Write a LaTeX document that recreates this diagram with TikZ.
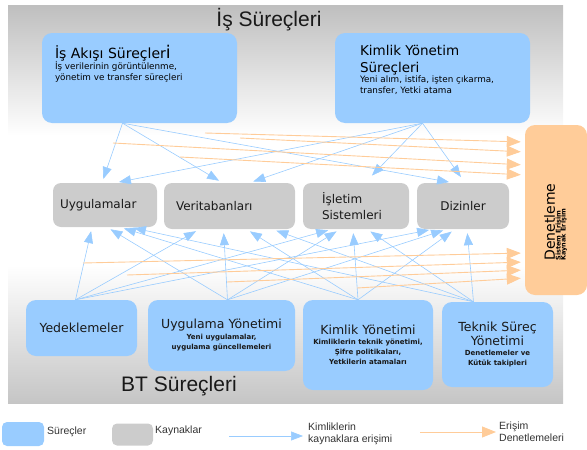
\documentclass[tikz,border=0pt]{standalone}
\usepackage{fontspec}
\setmainfont{DejaVu Sans}
\newfontfamily\arialfont{Liberation Sans}
\usepackage{graphicx}
\usetikzlibrary{arrows.meta}
\definecolor{surec}{HTML}{99CCFF}
\definecolor{kaynak}{HTML}{CCCCCC}
\definecolor{denet}{HTML}{FFCC99}
\definecolor{zemin}{HTML}{BFBFBF}
\lineskiplimit=-50pt
\tikzset{
  proc/.style={fill=surec, rounded corners=10pt, inner sep=0pt, text=black!90},
  res/.style={fill=kaynak, rounded corners=8pt, inner sep=0pt, text=black!90, font=\fontsize{12}{16}\selectfont},
  audit/.style={fill=denet, rounded corners=10pt, inner sep=0pt, text=black},
  acc/.style={draw=surec, line width=0.6pt, shorten >=4pt, -{Triangle[length=12pt,width=9pt]}},
  aud/.style={draw=denet, line width=0.9pt, shorten >=4pt, -{Triangle[length=14pt,width=11pt]}},
  ttl/.style={font=\arialfont\fontsize{21}{24}\selectfont, text=black!90},
  lgd/.style={font=\arialfont\fontsize{10.5}{12}\selectfont, text=black!80, align=left, inner sep=0pt},
}
\newcommand{\baslik}{\fontsize{12.5}{14}\selectfont}
\newcommand{\smtxt}{\fontsize{7}{10}\selectfont\bfseries}

\begin{document}
\begin{tikzpicture}[x=1pt, y=-1pt]
\useasboundingbox (0,0) rectangle (587,450);
\shade[top color=zemin, bottom color=white] (8,5) rectangle (563,136);
\shade[top color=white, bottom color=zemin!90] (8,265) rectangle (563,403);

\node[ttl, anchor=base] (is) at (269,26) {İş Süreçleri};
\node[ttl, anchor=base] (bt) at (179,391) {BT Süreçleri};

\node[proc, minimum width=195pt, minimum height=90pt,
  label={[anchor=north west, xshift=13pt, yshift=-12pt, align=left, inner sep=0pt, font=\fontsize{8.8}{11}\selectfont]north west:{%
    {\fontsize{14}{16}\selectfont İş Akışı Süreçler{\fontsize{17.5}{16}\selectfont i}}\\
    İş verilerinin görüntülenme,\\
    yönetim ve transfer süreçleri}}] (ias) at (139.5,78) {};
\node[proc, minimum width=195pt, minimum height=90pt,
  label={[anchor=north west, xshift=25pt, yshift=-12pt, align=left, inner sep=0pt, font=\fontsize{8.8}{10.5}\selectfont]north west:{%
    {\fontsize{13.5}{16}\selectfont Kimlik Yönetim}\\[6.5pt]
    {\fontsize{13.5}{16}\selectfont Süreçleri}\\
    Yeni alım, istifa, işten çıkarma,\\
    transfer, Yetki atama}}] (kys) at (432.5,78) {};

\node[res, minimum width=104pt, minimum height=44pt, text width=90pt, align=left] (uyg) at (105,205) {Uygulamalar};
\node[res, minimum width=131pt, minimum height=46pt, text width=107pt, align=left] (ver) at (229.5,206) {Veritabanları\\[-6pt]};
\node[res, minimum width=106pt, minimum height=46pt, text width=68pt, align=left] (isl) at (356,206) {İşletim\\Sistemleri};
\node[res, minimum width=92pt, minimum height=46pt, align=center] (diz) at (463,206) {Dizinler};

\node[audit, minimum width=62pt, minimum height=170pt] (den) at (556,210) {\rotatebox{90}{\lineskiplimit=0pt\fontsize{6.5}{7}\selectfont\begin{tabular}{@{}l@{\hspace{24pt}}}{\fontsize{14}{15}\selectfont Denetleme}\\[-1.5pt] \bfseries Sistem Erişim\\[-2pt] \bfseries Kaynak Erişim\end{tabular}}};

\node[proc, minimum width=111pt, minimum height=56pt, font=\baslik] (yed) at (81.5,328) {Yedeklemeler};
\node[proc, minimum width=147pt, minimum height=71pt, align=center, font=\fontsize{7}{10.5}\selectfont] (uyy) at (221.5,335.5) {{\baslik Uygulama Yönetimi}\\{\smtxt Yeni uygulamalar,}\\{\smtxt uygulama güncellemeleri}};
\node[proc, minimum width=130pt, minimum height=90pt, align=center, font=\fontsize{7}{10}\selectfont] (kyn) at (368,345) {{\baslik Kimlik Yönetimi}\\{\smtxt Kimliklerin teknik yönetimi,}\\{\smtxt Şifre politikaları,}\\{\smtxt Yetkilerin atamaları}};
\node[proc, minimum width=111pt, minimum height=85pt, align=center, font=\fontsize{7}{10}\selectfont] (tek) at (497.5,344.5) {{\baslik Teknik Süreç}\\[4pt]{\baslik Yönetimi}\\{\smtxt Denetlemeler ve}\\{\smtxt Kütük takipleri}};

\draw[acc] ([xshift=-17pt]ias.south) -- ([xshift=-3pt]uyg.north);
\draw[acc] ([xshift=-17pt]ias.south) -- ([xshift=-7pt]ver.north);
\draw[acc] ([xshift=-17pt]ias.south) -- ([xshift=-10pt]diz.north);
\draw[acc] ([xshift=-10pt]kys.south) -- ([xshift=10pt]uyg.north);
\draw[acc] ([xshift=-10pt]kys.south) -- ([xshift=20pt]ver.north);
\draw[acc, shorten >=10pt] ([xshift=-10pt]kys.south) -- ([xshift=9pt]isl.north);
\draw[acc, shorten >=7pt] ([xshift=-10pt]kys.south) -- ([xshift=2pt]diz.north);

\draw[acc] ([xshift=-6pt]yed.north) -- ([xshift=-13pt]uyg.south);
\draw[acc] ([xshift=-6pt]yed.north) -- ([xshift=-30pt]ver.south);
\draw[acc] ([xshift=-6pt]yed.north) -- ([xshift=-24pt]isl.south);
\draw[acc] ([xshift=-6pt]yed.north) -- ([xshift=-30pt]diz.south);
\draw[acc] ([xshift=6pt]uyy.north) -- ([xshift=2pt]uyg.south);
\draw[acc] ([xshift=6pt]uyy.north) -- ([xshift=-6pt]ver.south);
\draw[acc] ([xshift=6pt]uyy.north) -- ([xshift=-16pt]isl.south);
\draw[acc] ([xshift=6pt]uyy.north) -- ([xshift=-16pt]diz.south);
\draw[acc] ([xshift=-10pt]kyn.north) -- ([xshift=15pt]uyg.south);
\draw[acc] ([xshift=-10pt]kyn.north) -- ([xshift=17pt]ver.south);
\draw[acc] ([xshift=-10pt]kyn.north) -- ([xshift=-3pt]isl.south);
\draw[acc] ([xshift=-10pt]kyn.north) -- ([xshift=-8pt]diz.south);
\draw[acc] ([xshift=-24pt]tek.north) -- ([xshift=25pt]uyg.south);
\draw[acc] ([xshift=-24pt]tek.north) -- ([xshift=43pt]ver.south);
\draw[acc] ([xshift=-24pt]tek.north) -- ([xshift=11pt]isl.south);
\draw[acc] ([xshift=-24pt]tek.north) -- ([xshift=4pt]diz.south);

\coordinate (d1) at (205,133);
\coordinate (d2) at (240,138);
\coordinate (d3) at (113,143);
\coordinate (d4) at (180,157);
\coordinate (d5) at (83,263);
\coordinate (d6) at (127,275);
\coordinate (d7) at (227,282);
\coordinate (d8) at (357,288);
\draw[aud] (d1) -- ([yshift=68pt]den.west);
\draw[aud] (d2) -- ([yshift=58pt]den.west);
\draw[aud] (d3) -- ([yshift=45pt]den.west);
\draw[aud] (d4) -- ([yshift=35pt]den.west);
\draw[aud] (d5) -- ([yshift=-43pt]den.west);
\draw[aud] (d6) -- ([yshift=-52pt]den.west);
\draw[aud] (d7) -- ([yshift=-60pt]den.west);
\draw[aud] (d8) -- ([yshift=-68pt]den.west);

\node[proc, rounded corners=5pt, minimum width=42pt, minimum height=24pt] (lsur) at (23,434) {};
\node[lgd, anchor=west] (tsur) at (47,432) {Süreçler};
\node[res, rounded corners=5pt, minimum width=41pt, minimum height=22pt] (lkay) at (132.5,434.5) {};
\node[lgd, anchor=west] (tkay) at (155,431) {Kaynaklar};
\coordinate (ka) at (229,436);
\coordinate (kb) at (303,436);
\draw[acc, shorten >=0pt] (ka) -- (kb);
\node[lgd, anchor=west] (terisim) at (308,434) {Kimliklerin\\kaynaklara erişimi};
\coordinate (da) at (420,432);
\coordinate (db) at (496,432);
\draw[aud, shorten >=0pt] (da) -- (db);
\node[lgd, anchor=west] (tdenet) at (499,432) {Erişim\\Denetlemeleri};
\end{tikzpicture}
\end{document}
